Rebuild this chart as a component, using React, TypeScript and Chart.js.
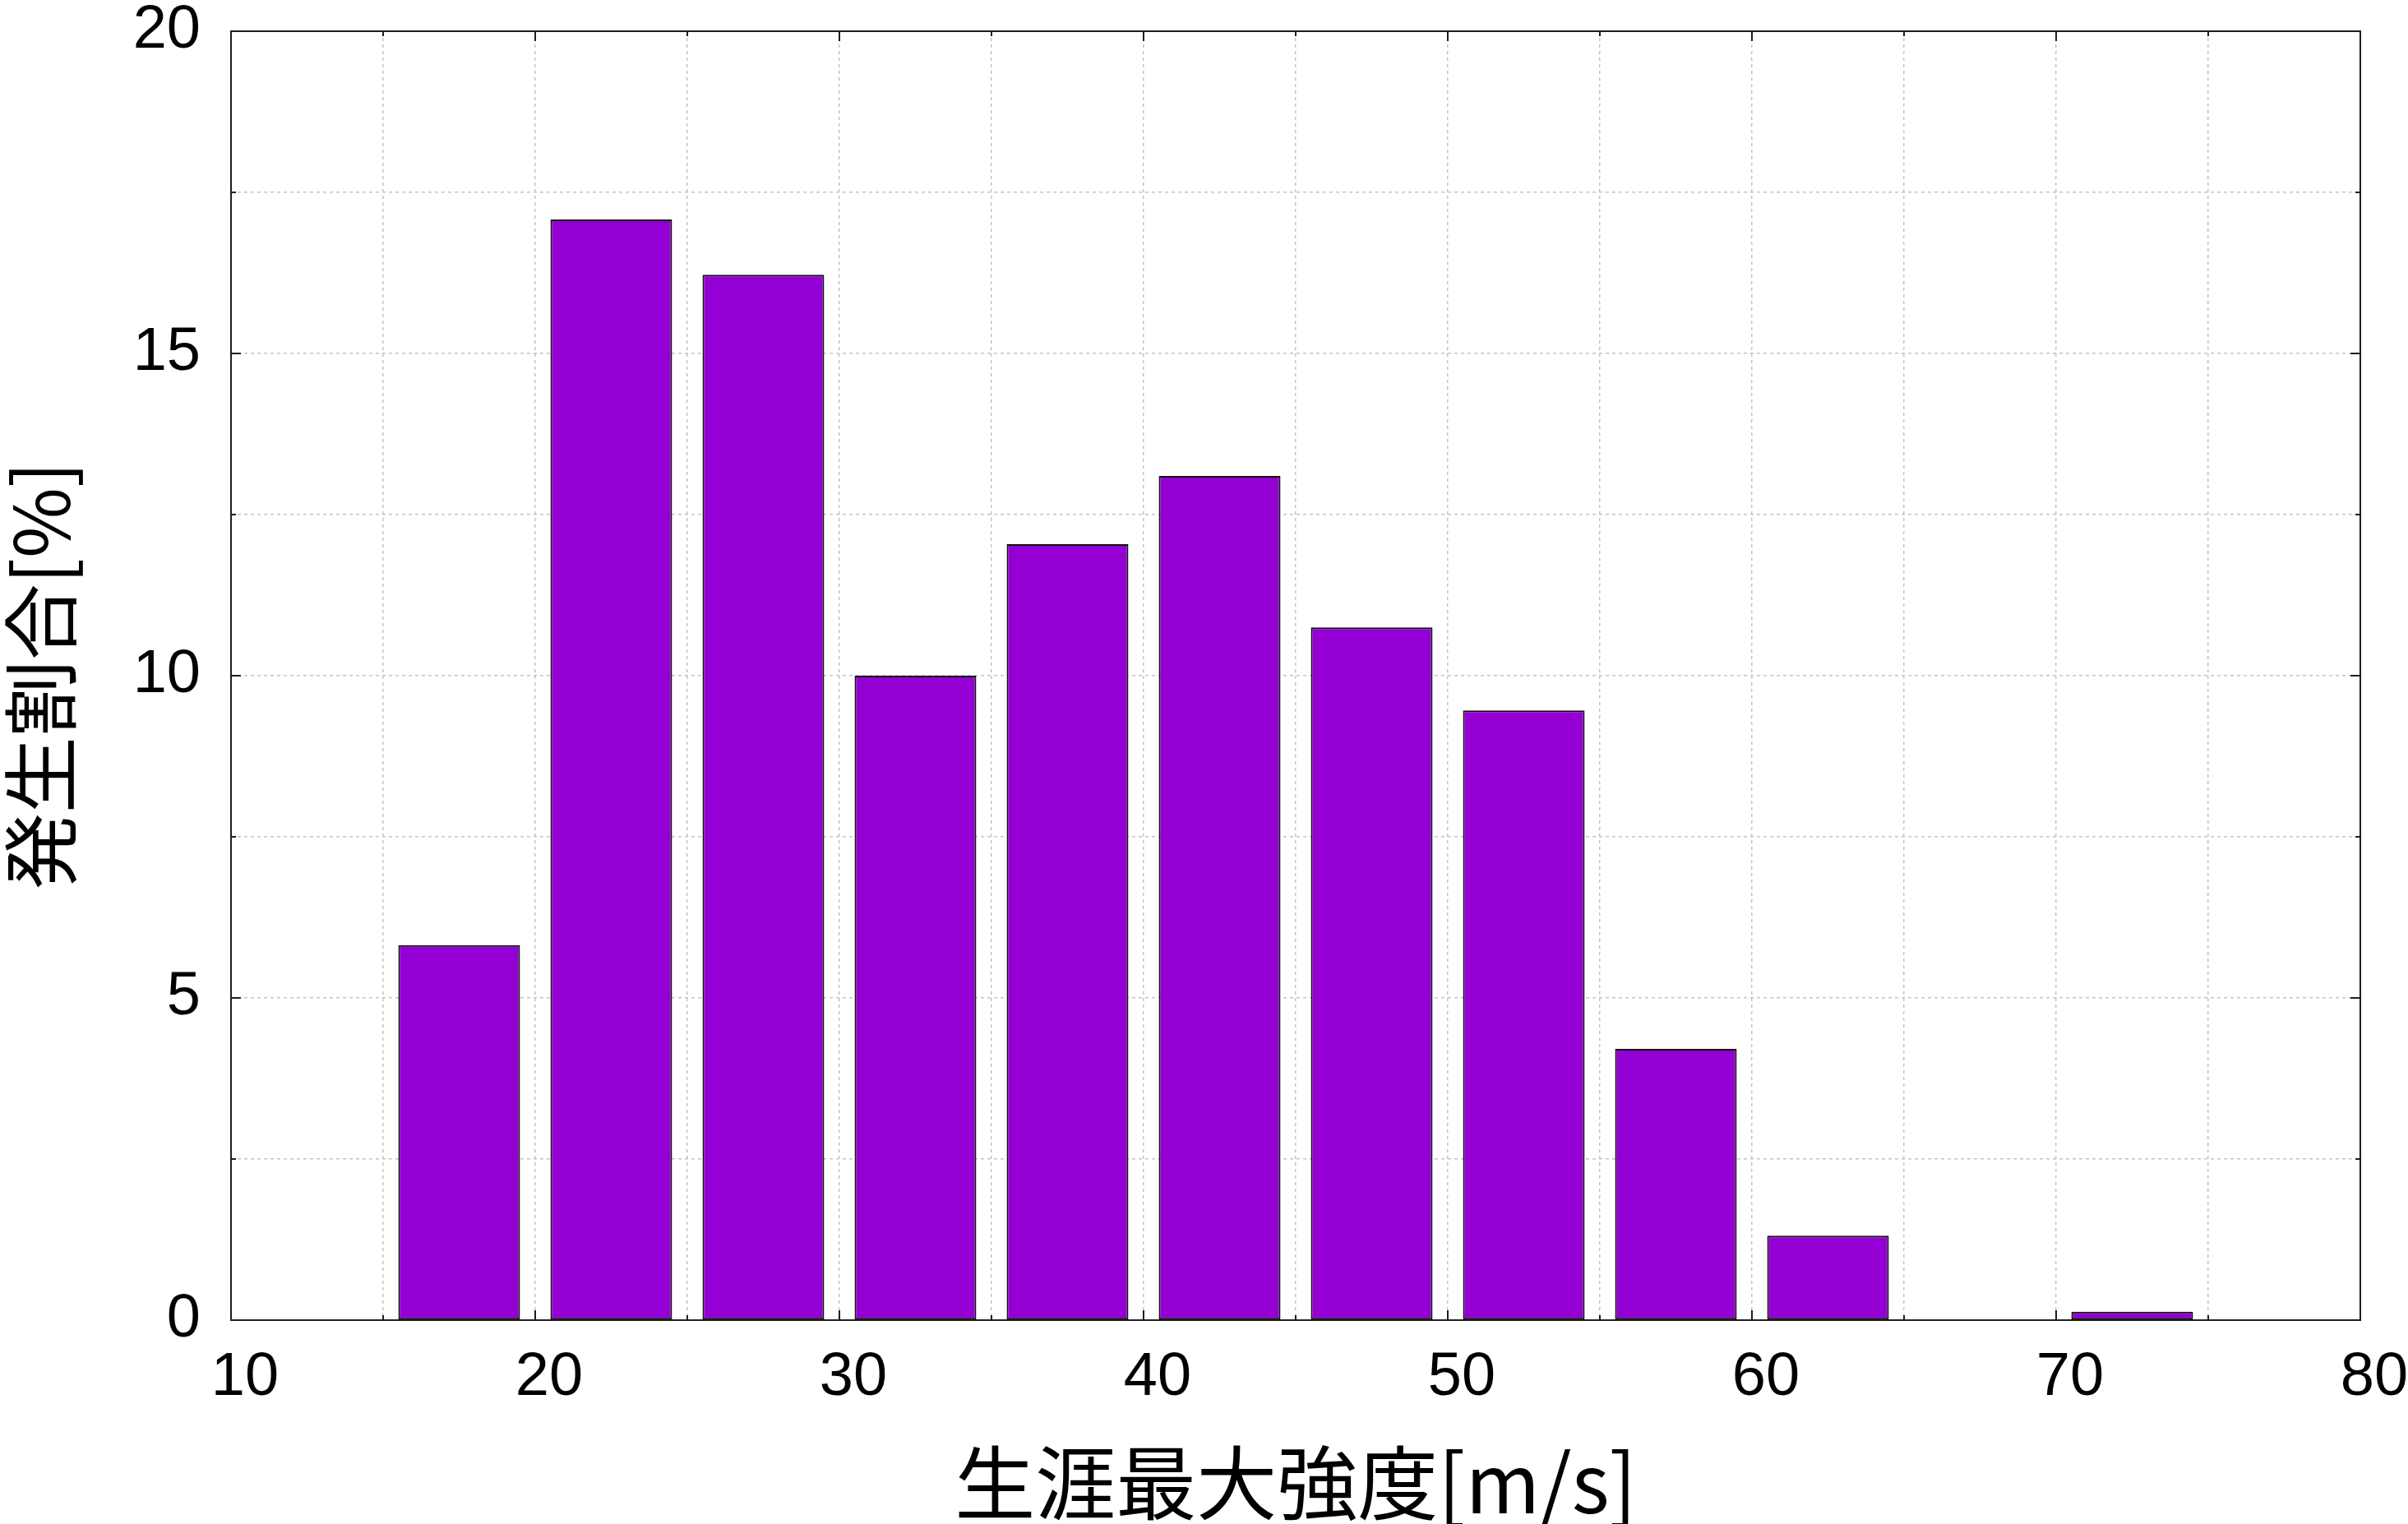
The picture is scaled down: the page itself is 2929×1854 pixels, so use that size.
import React, { useEffect, useRef } from 'react';
import { Chart, registerables } from 'chart.js';

Chart.register(...registerables);

// Histogram bin centres [m/s] (bins 15-20, 20-25, ... 70-75)
const binCenters = [17.5, 22.5, 27.5, 32.5, 37.5, 42.5, 47.5, 52.5, 57.5, 62.5, 67.5, 72.5];
// Occurrence share [%]
const shares = [5.82, 17.08, 16.22, 10.0, 12.04, 13.1, 10.75, 9.46, 4.21, 1.31, 0, 0.13];

const xLabelTicks = [10, 20, 30, 40, 50, 60, 70, 80];
const yLabelTicks = [0, 5, 10, 15, 20];

const xTitle = '生涯最大強度[m/s]';
const yTitle = '発生割合[%]';

const W = 2929;
const H = 1854;

const framePlugin = {
  id: 'frame',
  afterDraw(chart: any) {
    const { ctx, chartArea: a, scales } = chart;
    const x = scales.x;
    const y = scales.y;
    ctx.save();
    ctx.strokeStyle = '#1e1e1e';
    ctx.lineWidth = 2;
    ctx.setLineDash([]);
    x.ticks.forEach((t: any) => {
      const px = x.getPixelForValue(t.value);
      const len = xLabelTicks.includes(t.value) ? 12 : 6;
      ctx.beginPath();
      ctx.moveTo(px, a.bottom);
      ctx.lineTo(px, a.bottom - len);
      ctx.moveTo(px, a.top);
      ctx.lineTo(px, a.top + len);
      ctx.stroke();
    });
    y.ticks.forEach((t: any) => {
      const py = y.getPixelForValue(t.value);
      const len = yLabelTicks.includes(t.value) ? 12 : 6;
      ctx.beginPath();
      ctx.moveTo(a.left, py);
      ctx.lineTo(a.left + len, py);
      ctx.moveTo(a.right, py);
      ctx.lineTo(a.right - len, py);
      ctx.stroke();
    });
    ctx.lineWidth = 2;
    ctx.strokeRect(a.left, a.top, a.right - a.left, a.bottom - a.top);
    ctx.restore();
  },
};

function zeroPadding(scale: any) {
  scale.paddingTop = 0;
  scale.paddingBottom = 0;
  scale.paddingLeft = 0;
  scale.paddingRight = 0;
}

export default function App() {
  const ref = useRef<HTMLCanvasElement | null>(null);

  useEffect(() => {
    document.body.style.margin = '0';
    document.body.style.overflow = 'hidden';
    const canvas = ref.current;
    if (!canvas) return;
    const chart = new Chart(canvas, {
      type: 'bar',
      data: {
        datasets: [
          {
            data: binCenters.map((c, i) => ({ x: c, y: shares[i] })),
            backgroundColor: '#9400D3',
            borderColor: '#111111',
            borderWidth: 2,
            borderSkipped: false,
            categoryPercentage: 1,
            barPercentage: 0.8,
          },
        ],
      },
      options: {
        animation: false,
        responsive: false,
        devicePixelRatio: 1,
        layout: { padding: { left: 0, top: 38, right: 58, bottom: 0 } },
        plugins: {
          legend: { display: false },
          tooltip: { enabled: false },
        },
        scales: {
          x: {
            type: 'linear',
            min: 10,
            max: 80,
            offset: false,
            afterFit(scale: any) {
              scale.height = 248;
              zeroPadding(scale);
            },
            grid: {
              offset: false,
              drawTicks: false,
              color: '#c4c4c4',
              lineWidth: 1.5,
            },
            border: { display: false, dash: [4, 4] },
            ticks: {
              stepSize: 5,
              autoSkip: false,
              maxRotation: 0,
              padding: 34,
              labelOffset: 17,
              color: '#000',
              font: { family: '"Liberation Sans", Arial, sans-serif', size: 74, lineHeight: 1 },
              callback: (v: any) => (xLabelTicks.includes(Number(v)) ? String(v) : ''),
            },
            title: {
              display: true,
              text: xTitle,
              color: '#000',
              padding: { top: 0, bottom: 1 },
              font: { family: '"Noto Sans CJK JP", sans-serif', size: 98, lineHeight: 1 },
            },
          },
          y: {
            type: 'linear',
            min: 0,
            max: 20,
            afterFit(scale: any) {
              scale.width = 281;
              zeroPadding(scale);
            },
            grid: {
              drawTicks: false,
              color: '#c4c4c4',
              lineWidth: 1.5,
            },
            border: { display: false, dash: [4, 4] },
            ticks: {
              stepSize: 2.5,
              autoSkip: false,
              padding: 37,
              color: '#000',
              font: { family: '"Liberation Sans", Arial, sans-serif', size: 74, lineHeight: 1 },
              callback: (v: any) => (yLabelTicks.includes(Number(v)) ? String(v) : ''),
            },
            title: {
              display: true,
              text: yTitle,
              color: '#000',
              padding: { top: 3, bottom: 0 },
              font: { family: '"Noto Sans CJK JP", sans-serif', size: 93, lineHeight: 1 },
            },
          },
        },
      },
      plugins: [framePlugin],
    } as any);
    return () => chart.destroy();
  }, []);

  return (
    <div style={{ width: W, height: H, position: 'relative' }}>
      <canvas ref={ref} width={W} height={H} style={{ width: W, height: H, display: 'block' }} />
    </div>
  );
}
